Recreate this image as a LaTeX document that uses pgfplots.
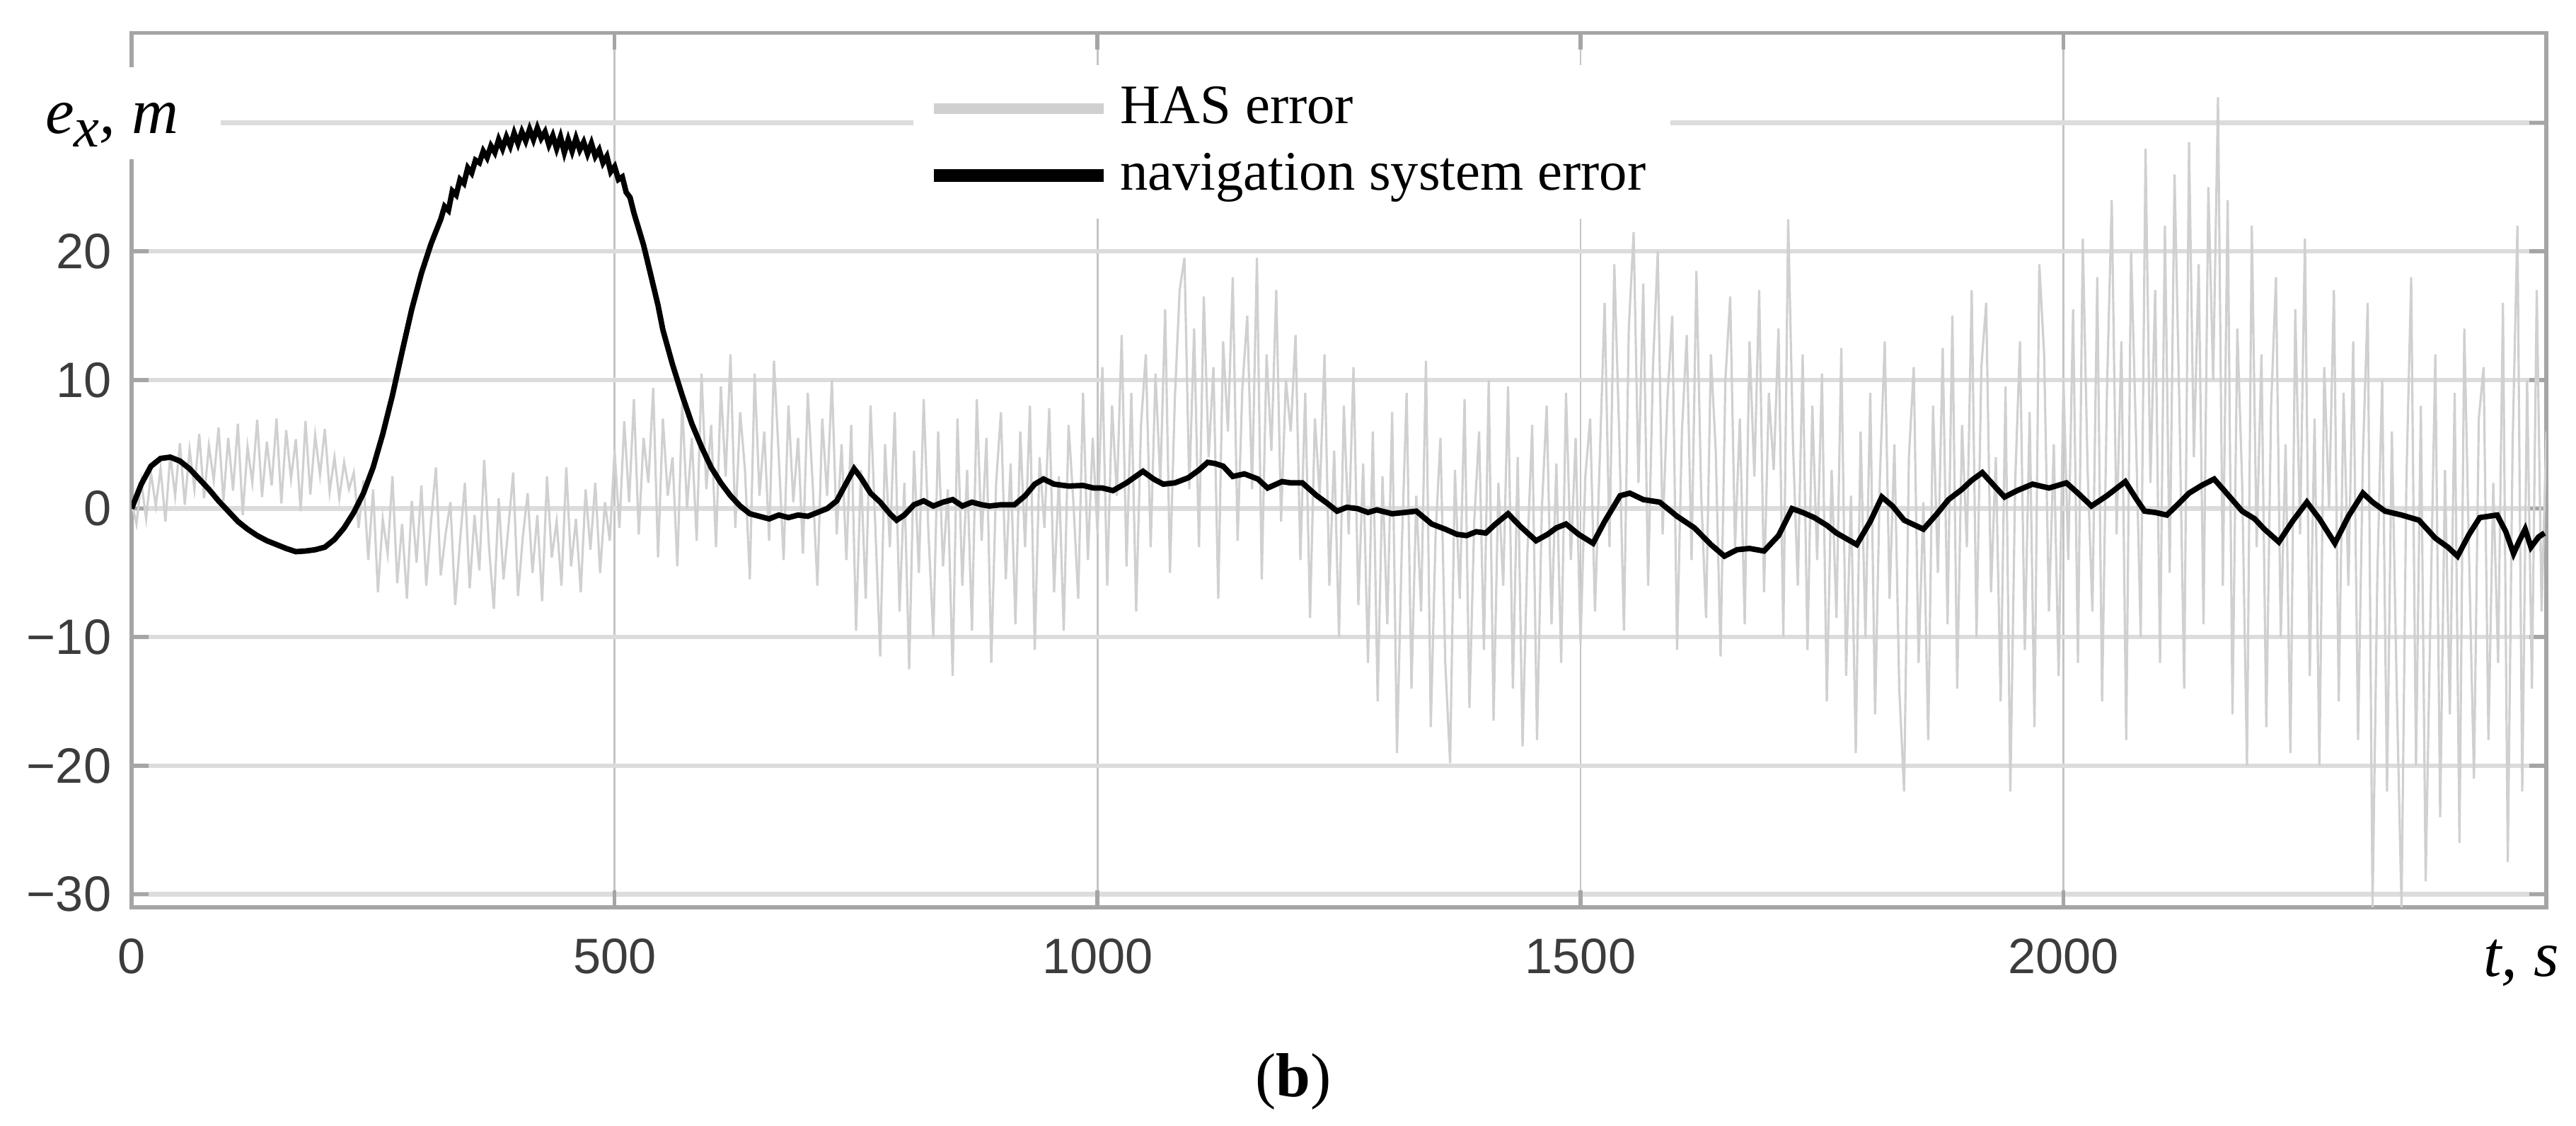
\documentclass[border=0pt]{standalone}
\usepackage{fontspec}
\setmainfont{Liberation Serif}
\setsansfont{Liberation Sans}
\usepackage{pgfplots}
\pgfplotsset{compat=1.18}

\definecolor{hasgray}{RGB}{208,208,208}
\definecolor{gridh}{RGB}{220,220,220}
\definecolor{gridv}{RGB}{196,196,196}
\definecolor{framegray}{RGB}{165,165,165}
\definecolor{ticktext}{RGB}{60,60,60}

\begin{document}
\begin{tikzpicture}
\path[use as bounding box] (-0.93,-1.544) rectangle (17.269,6.407);
\begin{axis}[
    at={(0,0)}, anchor=south west,
    scale only axis,
    width=17.06cm, height=6.175cm,
    xmin=0, xmax=2500,
    ymin=-31, ymax=37,
    xtick={0,500,1000,1500,2000,2500},
    xticklabels={0,500,1000,1500,2000,{}},
    ytick={-30,-20,-10,0,10,20,30},
    yticklabels={−30,−20,−10,0,10,20,{}},
    ticklabel style={font=\sffamily\fontsize{10}{12}\selectfont, text=ticktext},
    xticklabel style={yshift=-0.1cm},
    yticklabel style={xshift=-0.02cm},
    tick align=inside,
    major tick length=0.12cm,
    tick style={framegray, line width=0.8pt},
    axis line style={framegray, line width=0.8pt},
    grid=major,
    x grid style={gridv, line width=0.4pt},
    y grid style={gridh, line width=0.9pt},
    legend style={at={(0.3232,0.9642)}, anchor=north west, draw=none, fill=white,
        inner xsep=0.1cm, inner ysep=0.08cm, row sep=0.5pt,
        font=\fontsize{11.2}{13.4}\selectfont},
    legend cell align=left,
    legend image code/.code={\draw[#1] (0cm,0cm) -- (1.2cm,0cm);},
    clip=true,
]

% HAS error
\addplot[hasgray, line width=0.45pt, forget plot] coordinates {
(0,0.5)(5,-1.2)(10,2.1)(15,-0.8)(20,2.8)(25,0.2)(30,3.1)(35,-1.0)(40,4.2)(45,1.0)
(50,5.1)(55,0.3)(60,4.6)(65,1.5)(70,5.8)(75,0.8)(80,4.9)(85,2.2)(90,6.3)(95,0.6)
(100,5.5)(105,1.4)(110,6.6)(115,-0.5)(120,4.8)(125,2.0)(130,6.9)(135,0.9)(140,5.2)(145,1.8)
(150,7.0)(155,0.4)(160,6.1)(165,2.3)(170,5.4)(175,-0.2)(180,6.8)(185,1.1)(190,5.7)(195,2.6)
(200,6.2)(205,1.3)(210,4.0)(215,0.8)(220,3.6)(225,1.5)(230,2.8)(235,-1.5)(240,2.2)(245,-4.0)
(250,1.5)(255,-6.5)(260,-0.8)(265,-3.5)(270,2.5)(275,-5.8)(280,-1.2)(285,-7.0)(290,0.6)(295,-4.2)
(300,1.8)(305,-6.0)(310,-1.0)(315,3.2)(320,-5.2)(325,-2.0)(330,0.5)(335,-7.5)(340,-2.5)(345,2.0)
(350,-6.2)(355,-0.5)(360,-4.8)(365,3.8)(370,-3.0)(375,-7.8)(380,0.8)(385,-5.5)(390,-1.5)(395,2.8)
(400,-6.8)(405,-2.2)(410,1.2)(415,-5.0)(420,-0.5)(425,-7.2)(430,2.5)(435,-3.8)(440,-1.0)(445,-6.0)
(450,3.2)(455,-4.5)(460,-0.8)(465,-6.5)(470,1.5)(475,-3.2)(480,2.0)(485,-5.0)(490,0.5)(495,-2.5)
(500,4.5)(505,-1.5)(510,6.8)(515,0.5)(520,8.5)(525,-2.0)(530,5.5)(535,2.0)(540,9.4)(545,-3.8)
(550,7.0)(555,1.0)(560,4.0)(565,-4.5)(570,8.2)(575,0.0)(580,5.5)(585,-2.5)(590,10.5)(595,1.5)
(600,6.5)(605,-3.0)(610,9.5)(615,2.5)(620,12.0)(625,-1.5)(630,7.5)(635,3.0)(640,-5.5)(645,10.5)
(650,1.0)(655,6.0)(660,-2.5)(665,11.5)(670,4.0)(675,-4.0)(680,8.0)(685,0.5)(690,5.5)(695,-3.5)
(700,9.0)(705,2.0)(710,-6.0)(715,7.0)(720,1.0)(725,10.0)(730,-2.0)(735,5.0)(740,-4.0)(745,6.5)
(750,-9.5)(755,3.0)(760,-7.0)(765,8.0)(770,-1.5)(775,-11.5)(780,5.0)(785,-3.0)(790,7.5)(795,-8.0)
(800,2.0)(805,-12.5)(810,4.5)(815,-5.0)(820,8.5)(825,-2.0)(830,-10.0)(835,6.0)(840,-4.5)(845,1.5)
(850,-13.0)(855,7.0)(860,-6.0)(865,3.0)(870,-9.5)(875,8.5)(880,-2.5)(885,5.5)(890,-12.0)(895,2.0)
(900,7.5)(905,-5.5)(910,3.5)(915,-9.0)(920,6.0)(925,-3.0)(930,8.0)(935,-11.0)(940,4.0)(945,-1.5)
(950,7.8)(955,-6.5)(960,2.5)(965,-9.5)(970,6.5)(975,0.5)(980,-7.0)(985,9.0)(990,-4.0)(995,5.5)
(1000,-2.0)(1005,11.0)(1010,-6.0)(1015,8.0)(1020,1.0)(1025,13.5)(1030,-4.5)(1035,9.0)(1040,-8.0)(1045,6.5)
(1050,12.0)(1055,-3.0)(1060,10.5)(1065,2.0)(1070,15.5)(1075,-5.0)(1080,8.5)(1085,17.0)(1090,19.5)(1095,1.5)
(1100,14.0)(1105,-3.0)(1110,16.5)(1115,4.0)(1120,11.0)(1125,-7.0)(1130,13.0)(1135,6.0)(1140,18.0)(1145,-2.5)
(1150,9.5)(1155,15.0)(1160,1.5)(1165,19.5)(1170,-5.5)(1175,12.0)(1180,4.5)(1185,17.0)(1190,-1.0)(1195,10.0)
(1200,6.0)(1205,13.5)(1210,-4.0)(1215,9.0)(1220,-8.5)(1225,7.0)(1230,1.0)(1235,12.0)(1240,-6.0)(1245,4.5)
(1250,-10.0)(1255,8.0)(1260,-2.0)(1265,11.0)(1270,-7.5)(1275,3.5)(1280,-12.0)(1285,6.0)(1290,-15.0)(1295,2.5)
(1300,-9.0)(1305,7.5)(1310,-19.0)(1315,-3.0)(1320,9.0)(1325,-14.0)(1330,1.0)(1335,-8.0)(1340,11.5)(1345,-17.0)
(1350,-2.0)(1355,5.5)(1360,-12.0)(1365,-19.8)(1370,3.0)(1375,-7.0)(1380,8.5)(1385,-15.5)(1390,-1.0)(1395,6.0)
(1400,-11.0)(1405,10.0)(1410,-16.5)(1415,2.0)(1420,-6.0)(1425,9.5)(1430,-14.0)(1435,4.0)(1440,-18.5)(1445,-3.5)
(1450,6.5)(1455,-18.0)(1460,0.0)(1465,8.0)(1470,-9.0)(1475,3.5)(1480,-12.0)(1485,9.0)(1490,-4.0)(1495,5.5)
(1500,-10.5)(1505,2.5)(1510,7.0)(1515,-8.0)(1520,4.0)(1525,16.0)(1530,-3.0)(1535,19.0)(1540,6.0)(1545,-9.5)
(1550,14.0)(1555,21.5)(1560,2.0)(1565,17.5)(1570,-6.0)(1575,11.0)(1580,20.0)(1585,-2.0)(1590,8.5)(1595,15.0)
(1600,-11.0)(1605,6.0)(1610,13.5)(1615,-4.0)(1620,18.5)(1625,1.0)(1630,-8.5)(1635,12.0)(1640,4.5)(1645,-11.5)
(1650,10.0)(1655,16.5)(1660,-3.0)(1665,7.0)(1670,-9.0)(1675,13.0)(1680,2.5)(1685,17.0)(1690,-6.5)(1695,9.0)
(1700,3.0)(1705,14.0)(1710,-10.0)(1715,22.5)(1720,5.0)(1725,-6.0)(1730,12.0)(1735,-11.0)(1740,8.0)(1745,-4.0)
(1750,10.5)(1755,-15.0)(1760,3.0)(1765,-8.5)(1770,12.5)(1775,-13.0)(1780,1.0)(1785,-19.0)(1790,6.0)(1795,-10.0)
(1800,9.0)(1805,-16.0)(1810,2.5)(1815,13.0)(1820,-7.0)(1825,5.0)(1830,-14.0)(1835,-22.0)(1840,4.0)(1845,11.0)
(1850,-12.0)(1855,0.5)(1860,-18.0)(1865,8.0)(1870,-5.0)(1875,12.5)(1880,-9.0)(1885,15.0)(1890,-14.0)(1895,6.5)
(1900,-3.0)(1905,17.0)(1910,-10.0)(1915,11.0)(1920,16.0)(1925,-6.5)(1930,4.0)(1935,-15.0)(1940,9.5)(1945,-22.0)
(1950,2.0)(1955,13.0)(1960,-11.0)(1965,7.5)(1970,-17.0)(1975,19.0)(1980,12.0)(1985,-8.0)(1990,5.0)(1995,-13.0)
(2000,10.0)(2005,-4.0)(2010,15.5)(2015,-12.0)(2020,21.0)(2025,3.0)(2030,-8.0)(2035,18.0)(2040,-15.0)(2045,9.0)
(2050,24.0)(2055,-2.0)(2060,13.0)(2065,-18.0)(2070,20.0)(2075,6.0)(2080,-10.0)(2085,28.0)(2090,2.0)(2095,17.0)
(2100,-12.0)(2105,22.0)(2110,-5.0)(2115,26.0)(2120,8.0)(2125,-14.0)(2130,28.5)(2135,4.0)(2140,19.0)(2145,-9.0)
(2150,25.0)(2155,10.0)(2160,32.0)(2165,-6.0)(2170,24.0)(2175,-16.0)(2180,14.0)(2185,2.0)(2190,-20.0)(2195,22.0)
(2200,-3.0)(2205,12.0)(2210,-17.0)(2215,8.0)(2220,18.0)(2225,-10.0)(2230,5.0)(2235,-19.0)(2240,15.5)(2245,-2.0)
(2250,21.0)(2255,-13.0)(2260,7.0)(2265,-20.0)(2270,11.0)(2275,0.0)(2280,17.0)(2285,-15.0)(2290,9.0)(2295,-6.0)
(2300,13.0)(2305,-18.0)(2310,4.0)(2315,16.0)(2320,-31.0)(2325,-5.0)(2330,10.0)(2335,-22.0)(2340,6.0)(2345,-14.0)
(2350,-31.0)(2355,2.0)(2360,18.0)(2365,-20.0)(2370,8.0)(2375,-29.0)(2380,-8.0)(2385,12.0)(2390,-24.0)(2395,3.0)
(2400,-16.0)(2405,9.0)(2410,-26.0)(2415,14.0)(2420,-4.0)(2425,-21.0)(2430,7.0)(2435,11.0)(2440,-18.0)(2445,2.0)
(2450,-12.0)(2455,16.0)(2460,-27.5)(2465,5.0)(2470,22.0)(2475,-22.0)(2480,10.0)(2485,-14.0)(2490,17.0)(2495,-8.0)
(2500,6.0)
};

% navigation system error
\addplot[black, line width=1.1pt, forget plot] coordinates {
(0,0)(10,1.9)(20,3.3)(30,3.9)(40,4.0)(50,3.7)(60,3.1)(70,2.3)(80,1.5)(90,0.6)
(100,-0.2)(110,-1.0)(120,-1.6)(130,-2.1)(140,-2.5)(150,-2.8)(160,-3.1)(170,-3.35)(180,-3.3)(190,-3.2)
(200,-3.0)(210,-2.4)(220,-1.5)(230,-0.3)(240,1.2)(250,3.2)(260,5.8)(270,8.8)(280,12.2)(290,15.5)
(300,18.3)(310,20.6)(320,22.5)
(324,23.5)(328,23.2)(332,24.7)(336,24.4)(340,25.6)(344,25.3)(348,26.5)(352,26.1)(356,27.1)(360,26.9)
(364,27.8)(368,27.3)(372,28.2)(376,27.7)(380,28.7)(384,28.0)(388,28.9)(392,28.2)(396,29.2)(400,28.4)
(404,29.3)(408,28.6)(412,29.5)(416,28.7)(420,29.6)(424,28.8)(428,29.3)(432,28.3)(436,29.0)(440,28.0)
(444,28.9)(448,27.7)(452,28.7)(456,27.8)(460,28.8)(464,27.9)(468,28.5)(472,27.6)(476,28.4)(480,27.4)
(484,27.9)(488,26.9)(492,27.4)(496,26.2)(500,26.6)(504,25.6)(508,25.8)(512,24.6)(516,24.2)
(520,23.0)(530,20.5)(538,18.0)(545,15.8)(550,13.9)(560,11.2)(570,8.8)(580,6.6)(590,4.8)
(600,3.2)(610,2.0)(620,1.0)(630,0.2)(640,-0.4)(650,-0.6)(660,-0.8)(670,-0.5)(680,-0.7)(690,-0.5)
(700,-0.6)(710,-0.3)(720,0.0)(730,0.6)(740,2.0)(748,3.1)(755,2.4)(765,1.2)(775,0.5)(785,-0.4)
(792,-0.9)(800,-0.5)(810,0.3)(820,0.6)(830,0.2)(840,0.5)(850,0.7)(860,0.2)(870,0.5)(880,0.3)
(888,0.2)(900,0.3)(914,0.3)(925,1.0)(935,1.9)(944,2.3)(955,1.9)(970,1.75)(985,1.8)(996,1.6)
(1005,1.6)(1016,1.4)(1030,2.0)(1047,2.9)(1058,2.3)(1068,1.9)(1080,2.0)(1094,2.4)(1105,3.0)(1114,3.6)
(1122,3.5)(1130,3.3)(1140,2.5)(1152,2.7)(1166,2.3)(1176,1.6)(1191,2.1)(1200,2.0)(1212,2.0)(1227,1.0)
(1238,0.4)(1248,-0.2)(1258,0.1)(1269,0.0)(1280,-0.3)(1289,-0.1)(1305,-0.4)(1318,-0.3)(1330,-0.2)(1346,-1.2)
(1360,-1.6)(1372,-2.0)(1382,-2.1)(1392,-1.8)(1402,-1.9)(1412,-1.2)(1425,-0.4)(1438,-1.4)(1454,-2.5)(1466,-2.0)
(1475,-1.5)(1485,-1.2)(1498,-2.0)(1513,-2.7)(1525,-1.0)(1541,1.0)(1551,1.2)(1565,0.7)(1582,0.5)(1600,-0.6)
(1618,-1.5)(1635,-2.8)(1649,-3.7)(1662,-3.2)(1675,-3.1)(1690,-3.3)(1705,-2.1)(1719,0.0)(1730,-0.3)(1742,-0.7)
(1755,-1.3)(1765,-1.9)(1786,-2.8)(1800,-1.0)(1812,0.9)(1823,0.2)(1835,-0.9)(1855,-1.6)(1868,-0.5)(1881,0.7)
(1895,1.5)(1905,2.2)(1916,2.8)(1928,1.8)(1939,0.9)(1952,1.4)(1968,1.9)(1985,1.6)(2003,2.0)(2015,1.2)
(2029,0.2)(2045,1.0)(2064,2.1)(2075,0.8)(2084,-0.2)(2095,-0.3)(2107,-0.5)(2118,0.3)(2130,1.2)(2143,1.8)
(2156,2.3)(2170,1.1)(2185,-0.2)(2198,-0.8)(2208,-1.6)(2223,-2.6)(2237,-1.0)(2252,0.5)(2265,-0.8)(2281,-2.7)
(2295,-0.6)(2310,1.2)(2320,0.5)(2333,-0.2)(2350,-0.5)(2368,-0.9)(2385,-2.3)(2398,-3.0)(2408,-3.7)(2420,-2.0)
(2431,-0.7)(2449,-0.5)(2458,-1.8)(2466,-3.5)(2472,-2.5)(2478,-1.6)(2484,-3.0)(2492,-2.2)(2498,-1.9)
};

\addlegendimage{hasgray, line width=2.2pt}
\addlegendentry{HAS error}
\addlegendimage{black, line width=2.6pt}
\addlegendentry{navigation system error}
\end{axis}

% axis labels written over the last tick positions
\fill[white] (-0.65,5.281) rectangle (0.627,5.931);
\node[anchor=base west, inner sep=0pt, font=\fontsize{13}{15}\selectfont\itshape]
    at (-0.615,5.463) {e\raisebox{-0.45ex}{\fontsize{11.5}{13}\selectfont x}, m};
\node[anchor=base east, inner sep=0pt, font=\fontsize{13}{15}\selectfont\itshape]
    at (17.155,-0.487) {t, s};
\node[font=\fontsize{12.5}{15}\selectfont] at (8.206,-1.23) {(\textbf{b})};
\end{tikzpicture}
\end{document}
